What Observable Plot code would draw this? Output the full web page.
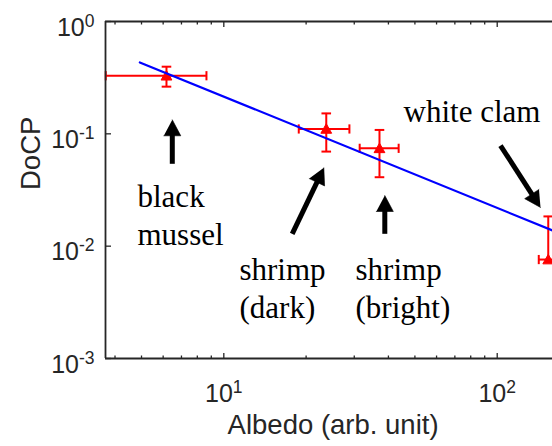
<!DOCTYPE html>
<html>
<head>
<meta charset="utf-8">
<script src="https://cdn.jsdelivr.net/npm/d3@7"></script>
<script src="https://cdn.jsdelivr.net/npm/@observablehq/plot@0.6"></script>
<style>
  html, body { margin: 0; padding: 0; background: #fff; }
  #chart svg { display: block; }
</style>
</head>
<body>
<div id="chart"></div>
<script>
// Degree of circular polarisation (DoCP) against albedo for four samples.
const samples    = ["black mussel", "shrimp (dark)", "shrimp (bright)", "white clam"];
const albedo     = [6.17, 23.7, 37.1, 153.7];
const albedoLow  = [3.70, 18.8, 31.4, 141.9];
const albedoHigh = [8.64, 28.8, 43.6, 165.5];
const docp       = [0.329, 0.1105, 0.0743, 0.0076];
const docpLow    = [0.263, 0.0695, 0.0411, null];   // lower bound falls below zero for the clam
const docpHigh   = [0.396, 0.152, 0.1083, 0.0184];

// Power-law fit, drawn between its two end points
const fitAlbedo = [4.93, 159.3];
const fitDocp   = [0.432, 0.0138];

// Axes
const xDomain = [3.692, 159.3];
const yDomain = [1e-3, 1];
const xTicksMajor = [10, 100];
const xTicksMinor = [4, 5, 6, 7, 8, 9, 20, 30, 40, 50, 60, 70, 80, 90];
const yTicks = [1e-3, 1e-2, 1e-1, 1];
const xTitle = "Albedo (arb. unit)";
const yTitle = "DoCP";

// Annotations (x at left edge, y at last baseline)
const labelText = ["black\nmussel", "shrimp\n(dark)", "shrimp\n(bright)", "white clam"];
const labelX    = [4.834, 11.41, 30.32, 45.43];
const labelY    = [0.01014, 0.00228, 0.00228, 0.1269];

// Arrows pointing from the labels to the samples
const arrowTailX = [6.48, 17.79, 38.8, 102.8];
const arrowTailY = [0.0541, 0.01288, 0.01288, 0.0787];
const arrowTipX  = [6.48, 23.22, 38.8, 144];
const arrowTipY  = [0.1333, 0.0498, 0.02825, 0.0221];

const W = 552, H = 446;
const red = "#ff0000", blue = "#0000ff", axisColor = "#262626";
const sans = "'Liberation Sans', Arial, Helvetica, sans-serif";
const serif = "'Liberation Serif', 'Times New Roman', serif";

const rows = samples.map((name, i) => ({
  name, x: albedo[i], xLo: albedoLow[i], xHi: albedoHigh[i],
  y: docp[i], yLo: docpLow[i], yHi: docpHigh[i]
}));
const fit = fitAlbedo.map((x, i) => ({x, y: fitDocp[i]}));
const labels = labelText.map((text, i) => ({text, x: labelX[i], y: labelY[i]}));
const arrows = arrowTailX.map((_, i) => ({
  x1: arrowTailX[i], y1: arrowTailY[i], x2: arrowTipX[i], y2: arrowTipY[i]
}));

// Small custom symbols: straight segments for caps and ticks, a triangle marker
const seg = (x0, y0, x1, y1) => ({draw(ctx) { ctx.moveTo(x0, y0); ctx.lineTo(x1, y1); }});
const capH = seg(-4.8, 0, 4.8, 0);
const capV = seg(0, -4.6, 0, 4.6);
const tri = {draw(ctx) { ctx.moveTo(0, -5.2); ctx.lineTo(5.4, 4.3); ctx.lineTo(-5.4, 4.3); ctx.closePath(); }};
const tickLen = 5.5, minorLen = 3;

const sup = d => `10^${Math.round(Math.log10(d))}`;

function build(shafts, heads) {
  const tickStyle = {stroke: axisColor, fill: "none", strokeWidth: 1.3};
  const errStyle = {stroke: red, fill: "none", strokeWidth: 2};
  return Plot.plot({
    width: W, height: H,
    marginLeft: 105, marginRight: 0, marginTop: 21, marginBottom: 88,
    style: {background: "#fff", fontFamily: sans},
    x: {type: "log", domain: xDomain, axis: null},
    y: {type: "log", domain: yDomain, axis: null},
    marks: [
      // error bars
      Plot.ruleY(rows, {y: "y", x1: "xLo", x2: "xHi", ...errStyle}),
      Plot.ruleX(rows, {x: "x", y1: d => d.yLo ?? d.y, y2: "yHi", ...errStyle}),
      Plot.dot(rows, {x: "xLo", y: "y", symbol: capV, ...errStyle}),
      Plot.dot(rows, {x: "xHi", y: "y", symbol: capV, ...errStyle}),
      Plot.dot(rows, {x: "x", y: "yHi", symbol: capH, ...errStyle}),
      Plot.dot(rows.filter(d => d.yLo != null), {x: "x", y: "yLo", symbol: capH, ...errStyle}),
      Plot.dot(rows, {x: "x", y: "y", symbol: tri, fill: red, stroke: red, strokeWidth: 1}),

      // fit
      Plot.line(fit, {x: "x", y: "y", stroke: blue, strokeWidth: 2.2}),

      // box: left, top and bottom edges
      Plot.ruleX([xDomain[0]], {stroke: axisColor, strokeWidth: 1.8}),
      Plot.ruleY(yDomain, {stroke: axisColor, strokeWidth: 1.8}),

      // inward ticks
      Plot.dot(xTicksMajor, {x: d => d, frameAnchor: "bottom", symbol: seg(0, 0, 0, -tickLen), ...tickStyle}),
      Plot.dot(xTicksMajor, {x: d => d, frameAnchor: "top", symbol: seg(0, 0, 0, tickLen), ...tickStyle}),
      Plot.dot(xTicksMinor, {x: d => d, frameAnchor: "bottom", symbol: seg(0, 0, 0, -minorLen), ...tickStyle}),
      Plot.dot(xTicksMinor, {x: d => d, frameAnchor: "top", symbol: seg(0, 0, 0, minorLen), ...tickStyle}),
      Plot.dot(yTicks, {y: d => d, frameAnchor: "left", symbol: seg(0, 0, tickLen, 0), ...tickStyle}),

      // tick labels
      Plot.text(xTicksMajor, {x: d => d, frameAnchor: "bottom", dy: 43, lineAnchor: "bottom",
        text: sup, fontSize: 25, fill: axisColor, fontFamily: sans}),
      Plot.text(yTicks, {y: d => d, frameAnchor: "left", dx: -11, dy: 14, lineAnchor: "bottom",
        textAnchor: "end", text: sup, fontSize: 25, fill: axisColor, fontFamily: sans}),

      // axis titles
      Plot.text([xTitle], {x: 25.1, frameAnchor: "bottom", dy: 75, lineAnchor: "bottom",
        text: d => d, fontSize: 27.5, fill: axisColor, fontFamily: sans}),
      Plot.text([yTitle], {frameAnchor: "left", dx: -66, rotate: -90, lineAnchor: "bottom",
        text: d => d, fontSize: 27.5, fill: axisColor, fontFamily: sans}),

      // annotations
      Plot.text(labels, {x: "x", y: "y", text: "text", textAnchor: "start", lineAnchor: "bottom",
        lineHeight: 1.24, fontSize: 31, fontFamily: serif, fill: "#000"}),
      Plot.link(shafts, {x1: "x1", y1: "y1", x2: "x2", y2: "y2", stroke: "#000", strokeWidth: 5, strokeLinecap: "butt"}),
      Plot.line(heads, {x: "x", y: "y", z: "id", fill: "#000", stroke: "#000", strokeWidth: 0.6})
    ]
  });
}

// First pass gives the scales used to shape the arrow heads in screen space
const probe = build([], []);
const sx = probe.scale("x"), sy = probe.scale("y");
const headLen = 16, headHalf = 8.5;
const shafts = [], heads = [];
arrows.forEach((a, i) => {
  const px1 = sx.apply(a.x1), py1 = sy.apply(a.y1);
  const px2 = sx.apply(a.x2), py2 = sy.apply(a.y2);
  const len = Math.hypot(px2 - px1, py2 - py1);
  const ux = (px2 - px1) / len, uy = (py2 - py1) / len;
  const bx = px2 - ux * headLen, by = py2 - uy * headLen;
  const nx = -uy, ny = ux;
  shafts.push({x1: a.x1, y1: a.y1,
    x2: sx.invert(px2 - ux * (headLen - 3)), y2: sy.invert(py2 - uy * (headLen - 3))});
  heads.push(
    {id: i, x: a.x2, y: a.y2},
    {id: i, x: sx.invert(bx + nx * headHalf), y: sy.invert(by + ny * headHalf)},
    {id: i, x: sx.invert(bx - nx * headHalf), y: sy.invert(by - ny * headHalf)}
  );
});

const svg = build(shafts, heads);

// Render "10^n" labels with a raised exponent
const ns = "http://www.w3.org/2000/svg";
svg.querySelectorAll("text").forEach(t => {
  const m = /^10\^(.+)$/.exec(t.textContent);
  if (!m) return;
  t.textContent = "10";
  const s = document.createElementNS(ns, "tspan");
  s.setAttribute("font-size", "17.5");
  s.setAttribute("dy", "-9");
  s.textContent = m[1];
  t.appendChild(s);
});

document.getElementById("chart").appendChild(svg);
</script>
</body>
</html>
